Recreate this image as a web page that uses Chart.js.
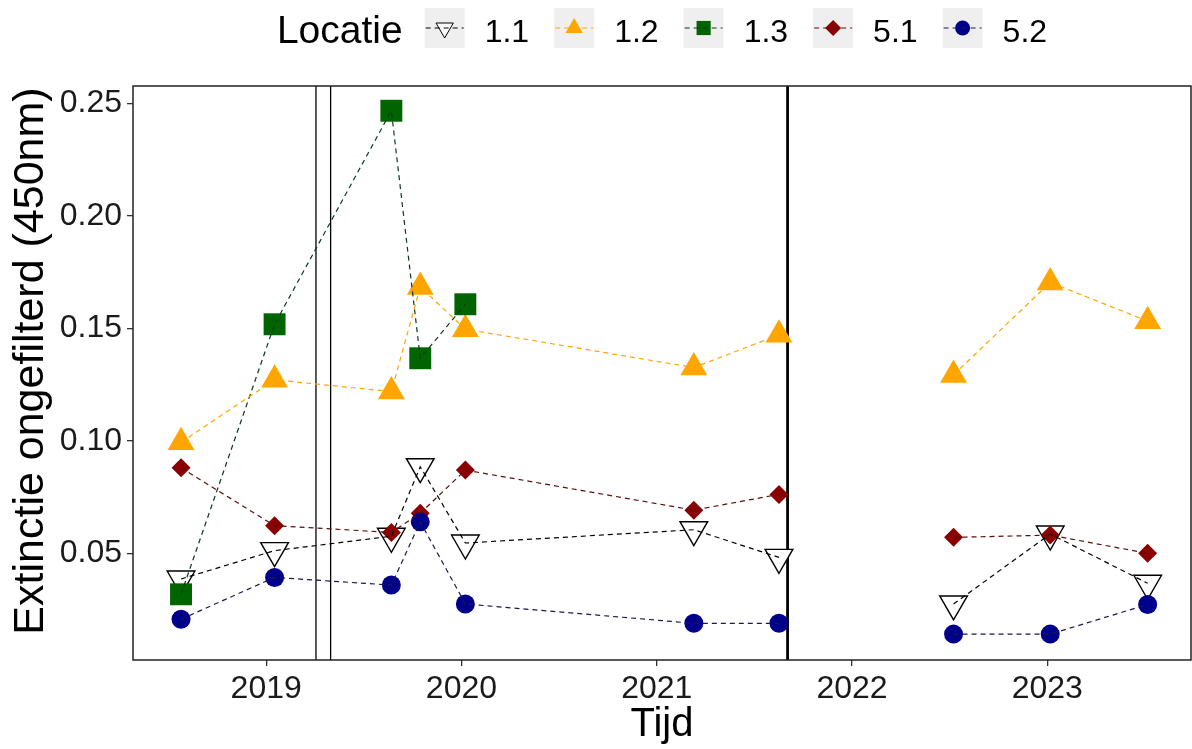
<!DOCTYPE html>
<html><head><meta charset="utf-8">
<script src="https://cdn.jsdelivr.net/npm/chart.js@4/dist/chart.umd.min.js"></script>
<style>html,body{margin:0;padding:0;background:#fff;overflow:hidden}canvas{display:block}</style>
</head><body><canvas id="c" width="1192" height="749" style="width:1192px;height:749px"></canvas>
<script>
// ---- data ----
const seriesNames = ['1.1', '1.2', '1.3', '5.1', '5.2'];
const dates = [2018.564, 2019.043, 2019.641, 2019.789, 2020.020, 2021.190, 2021.626, 2022.520, 2023.015, 2023.514];
const loc11 = [0.0386, 0.0512, 0.0576, 0.0885, 0.0546, 0.0605, 0.0482, 0.0275, 0.0586, 0.0367];
const loc12 = [0.0994, 0.1271, 0.1219, 0.1684, 0.1496, 0.1326, 0.1471, 0.1293, 0.1704, 0.1532];
const loc13 = [0.0318, 0.1518, 0.2467, 0.1367, 0.1607, null, null, null, null, null];
const loc51 = [0.0880, 0.0623, 0.0593, 0.0678, 0.0870, 0.0692, 0.0762, 0.0571, 0.0581, 0.0500];
const loc52 = [0.0207, 0.0393, 0.0359, 0.0640, 0.0275, 0.0189, 0.0189, 0.0141, 0.0141, 0.0273];
const periodBreak = 2022.0;          // lines are not joined across this date
const xTicks = [2019, 2020, 2021, 2022, 2023];
const yTicks = [0.05, 0.10, 0.15, 0.20, 0.25];
const eventLines = [2019.255, 2019.330, 2021.670];
const xRange = [2018.318, 2023.736];
const yRange = [0.0026, 0.2577];
const yTitle = 'Extinctie ongefilterd (450nm)';

// ---- styles ----
const FONT = '"Liberation Sans", Arial, sans-serif';
const styles = [
  {fill: '#FFFFFF', stroke: '#000000', line: '#000000', shape: 'triangle', rot: 180, r: 16, bw: 1.4, lr: 10},
  {fill: '#FFA500', stroke: '#FFA500', line: '#FFA500', shape: 'triangle', rot: 0, r: 15.5, bw: 0, lr: 10},
  {fill: '#006400', stroke: '#006400', line: '#0B3B1B', shape: 'rect', rot: 0, r: 15.5, bw: 0, lr: 10},
  {fill: '#8B0000', stroke: '#8B0000', line: '#5A1010', shape: 'rectRot', rot: 0, r: 9.5, bw: 0, lr: 8},
  {fill: '#00008B', stroke: '#00008B', line: '#1A1A4A', shape: 'circle', rot: 0, r: 9.5, bw: 0, lr: 7.5}
];
const eventLineWidths = [1.3, 1.3, 2.8];
const allValues = [loc11, loc12, loc13, loc51, loc52];

function pointsOf(vals, withBreak) {
  const pts = [];
  dates.forEach((d, i) => {
    if (withBreak && d > periodBreak && (pts.length === 0 || pts[pts.length - 1].x < periodBreak)) {
      pts.push({x: periodBreak, y: null});
    }
    if (vals[i] !== null) pts.push({x: d, y: vals[i]});
  });
  return pts;
}

const datasets = [];
allValues.forEach((vals, i) => {
  const s = styles[i];
  datasets.push({
    label: seriesNames[i] + ' line', data: pointsOf(vals, true),
    borderColor: s.line, borderWidth: 1.2, borderDash: [5, 4], pointRadius: 0,
    spanGaps: false, fill: false, order: 0, tension: 0
  });
  datasets.push({
    label: seriesNames[i], data: pointsOf(vals, false), showLine: false,
    pointStyle: s.shape, pointRotation: s.rot, pointRadius: s.r,
    pointBackgroundColor: s.fill, pointBorderColor: s.stroke, pointBorderWidth: s.bw,
    order: 10 - i
  });
});

const framePlugin = {
  id: 'frame',
  beforeDatasetsDraw(chart) {
    const {ctx, chartArea: ca, scales: {x}} = chart;
    ctx.save();
    ctx.strokeStyle = '#000';
    eventLines.forEach((v, i) => {
      const px = x.getPixelForValue(v);
      ctx.lineWidth = eventLineWidths[i];
      ctx.beginPath(); ctx.moveTo(px, ca.top); ctx.lineTo(px, ca.bottom); ctx.stroke();
    });
    ctx.restore();
  },
  afterDatasetsDraw(chart) {
    const {ctx, chartArea: ca} = chart;
    ctx.save();
    ctx.strokeStyle = '#222'; ctx.lineWidth = 1.5;
    ctx.strokeRect(ca.left, ca.top, ca.right - ca.left, ca.bottom - ca.top);
    ctx.restore();
  },
  afterDraw(chart) {
    const {ctx, chartArea: ca} = chart;
    ctx.save();
    // y-axis title
    ctx.font = '43px ' + FONT; ctx.fillStyle = '#000';
    ctx.textAlign = 'center'; ctx.textBaseline = 'middle';
    ctx.translate(31, (ca.top + ca.bottom) / 2 - 12); ctx.rotate(-Math.PI / 2);
    ctx.fillText(yTitle, 0, 0);
    ctx.restore();
    ctx.save();
    // legend
    const titleFont = '39px ' + FONT, labFont = '32px ' + FONT;
    ctx.font = titleFont; const tw = ctx.measureText('Locatie').width;
    ctx.font = labFont; const lw = seriesNames.map(n => ctx.measureText(n).width);
    const key = 40, gapTitle = 22, gapLab = 20, gapItem = 25;
    let total = tw + gapTitle;
    seriesNames.forEach((n, i) => { total += key + gapLab + lw[i] + (i < seriesNames.length - 1 ? gapItem : 0); });
    let x = (ca.left + ca.right) / 2 - total / 2;
    const cy = 28;
    ctx.fillStyle = '#000'; ctx.textBaseline = 'alphabetic'; ctx.textAlign = 'left';
    ctx.font = titleFont; ctx.fillText('Locatie', x, 43);
    x += tw + gapTitle;
    seriesNames.forEach((n, i) => {
      const s = styles[i];
      ctx.fillStyle = '#EFEFEF'; ctx.fillRect(x, cy - 20, key, 40);
      ctx.fillStyle = s.fill; ctx.strokeStyle = s.stroke;
      Chart.helpers.drawPoint(ctx, {pointStyle: s.shape, rotation: s.rot, radius: s.lr, borderWidth: s.bw}, x + key / 2, cy);
      ctx.strokeStyle = s.line; ctx.lineWidth = 1.2; ctx.setLineDash([5, 4]);
      ctx.beginPath(); ctx.moveTo(x + 1, cy); ctx.lineTo(x + key - 1, cy); ctx.stroke();
      ctx.setLineDash([]);
      x += key + gapLab;
      ctx.fillStyle = '#000'; ctx.font = labFont; ctx.fillText(n, x, 42);
      x += lw[i] + gapItem;
    });
    ctx.restore();
  }
};

new Chart(document.getElementById('c'), {
  type: 'line',
  data: {datasets},
  plugins: [framePlugin],
  options: {
    responsive: false, maintainAspectRatio: false, animation: false, events: [], devicePixelRatio: 1,
    layout: {autoPadding: false, padding: {top: 86, right: 1, left: 0, bottom: 0}},
    plugins: {legend: {display: false}, tooltip: {enabled: false}},
    scales: {
      x: {
        type: 'linear', min: xRange[0], max: xRange[1],
        afterFit: s => { s.height = 89; s.paddingLeft = 0; s.paddingRight = 0; },
        afterBuildTicks: s => { s.ticks = xTicks.map(v => ({value: v})); },
        ticks: {callback: v => String(v), font: {family: FONT, size: 32}, color: '#1a1a1a', padding: 4, maxRotation: 0, autoSkip: false},
        grid: {display: true, drawOnChartArea: false, drawTicks: true, tickLength: 6, color: '#333', lineWidth: 1.3},
        border: {display: false},
        title: {display: true, text: 'Tijd', font: {family: FONT, size: 40}, color: '#000', padding: {top: 0, bottom: 0}}
      },
      y: {
        type: 'linear', min: yRange[0], max: yRange[1],
        afterFit: s => { s.width = 133; s.paddingTop = 0; s.paddingBottom = 0; },
        afterBuildTicks: s => { s.ticks = yTicks.map(v => ({value: v})); },
        ticks: {callback: v => v.toFixed(2), font: {family: FONT, size: 32}, color: '#1a1a1a', padding: 5, autoSkip: false},
        grid: {display: true, drawOnChartArea: false, drawTicks: true, tickLength: 6, color: '#333', lineWidth: 1.3},
        border: {display: false},
        title: {display: false, text: yTitle}
      }
    }
  }
});
</script>
</body></html>
